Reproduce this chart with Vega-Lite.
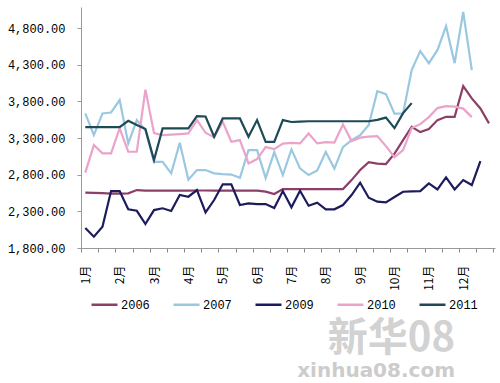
{
  "$schema": "https://vega.github.io/schema/vega-lite/v6.json",
  "width": 414,
  "height": 241,
  "autosize": {"type": "none"},
  "padding": {"left": 81, "top": 7, "right": 5, "bottom": 135},
  "background": "white",
  "config": {"view": {"stroke": null}},
  "title": {
    "text": "新华08",
    "subtitle": "xinhua08.com",
    "orient": "bottom",
    "anchor": "end",
    "frame": "group",
    "dx": -40,
    "offset": 8,
    "font": "Noto Sans CJK SC",
    "fontSize": 40,
    "fontWeight": "bold",
    "color": "#d2d2d2",
    "subtitleFont": "DejaVu Sans",
    "subtitleFontSize": 20,
    "subtitleFontWeight": "bold",
    "subtitleColor": "#cccccc",
    "subtitlePadding": 2
  },
  "data": {
    "values": [
      {"w":0,"s":"2006","v":2555},{"w":1,"s":"2006","v":2552},{"w":2,"s":"2006","v":2548},{"w":3,"s":"2006","v":2543},{"w":4,"s":"2006","v":2543},{"w":5,"s":"2006","v":2546},{"w":6,"s":"2006","v":2591},{"w":7,"s":"2006","v":2582},{"w":8,"s":"2006","v":2582},{"w":9,"s":"2006","v":2582},{"w":10,"s":"2006","v":2582},{"w":11,"s":"2006","v":2582},{"w":12,"s":"2006","v":2582},{"w":13,"s":"2006","v":2585},{"w":14,"s":"2006","v":2585},{"w":15,"s":"2006","v":2582},{"w":16,"s":"2006","v":2582},{"w":17,"s":"2006","v":2582},{"w":18,"s":"2006","v":2582},{"w":19,"s":"2006","v":2582},{"w":20,"s":"2006","v":2582},{"w":21,"s":"2006","v":2570},{"w":22,"s":"2006","v":2537},{"w":23,"s":"2006","v":2605},{"w":24,"s":"2006","v":2605},{"w":25,"s":"2006","v":2605},{"w":26,"s":"2006","v":2605},{"w":27,"s":"2006","v":2605},{"w":28,"s":"2006","v":2605},{"w":29,"s":"2006","v":2605},{"w":30,"s":"2006","v":2605},{"w":31,"s":"2006","v":2727},{"w":32,"s":"2006","v":2864},{"w":33,"s":"2006","v":2973},{"w":34,"s":"2006","v":2953},{"w":35,"s":"2006","v":2946},{"w":36,"s":"2006","v":3089},{"w":37,"s":"2006","v":3273},{"w":38,"s":"2006","v":3455},{"w":39,"s":"2006","v":3382},{"w":40,"s":"2006","v":3423},{"w":41,"s":"2006","v":3546},{"w":42,"s":"2006","v":3591},{"w":43,"s":"2006","v":3591},{"w":44,"s":"2006","v":4010},{"w":45,"s":"2006","v":3842},{"w":46,"s":"2006","v":3705},{"w":47,"s":"2006","v":3501},
      {"w":0,"s":"2007","v":3637},{"w":1,"s":"2007","v":3341},{"w":2,"s":"2007","v":3637},{"w":3,"s":"2007","v":3650},{"w":4,"s":"2007","v":3819},{"w":5,"s":"2007","v":3228},{"w":6,"s":"2007","v":3546},{"w":7,"s":"2007","v":3410},{"w":8,"s":"2007","v":2977},{"w":9,"s":"2007","v":2977},{"w":10,"s":"2007","v":2819},{"w":11,"s":"2007","v":3236},{"w":12,"s":"2007","v":2732},{"w":13,"s":"2007","v":2864},{"w":14,"s":"2007","v":2864},{"w":15,"s":"2007","v":2819},{"w":16,"s":"2007","v":2809},{"w":17,"s":"2007","v":2803},{"w":18,"s":"2007","v":2759},{"w":19,"s":"2007","v":3137},{"w":20,"s":"2007","v":3137},{"w":21,"s":"2007","v":2755},{"w":22,"s":"2007","v":3110},{"w":23,"s":"2007","v":2796},{"w":24,"s":"2007","v":3146},{"w":25,"s":"2007","v":2887},{"w":26,"s":"2007","v":2796},{"w":27,"s":"2007","v":2857},{"w":28,"s":"2007","v":3110},{"w":29,"s":"2007","v":2884},{"w":30,"s":"2007","v":3178},{"w":31,"s":"2007","v":3273},{"w":32,"s":"2007","v":3341},{"w":33,"s":"2007","v":3478},{"w":34,"s":"2007","v":3941},{"w":35,"s":"2007","v":3900},{"w":36,"s":"2007","v":3635},{"w":37,"s":"2007","v":3637},{"w":38,"s":"2007","v":4228},{"w":39,"s":"2007","v":4487},{"w":40,"s":"2007","v":4323},{"w":41,"s":"2007","v":4501},{"w":42,"s":"2007","v":4828},{"w":43,"s":"2007","v":4323},{"w":44,"s":"2007","v":5023},{"w":45,"s":"2007","v":4228},
      {"w":0,"s":"2009","v":2073},{"w":1,"s":"2009","v":1954},{"w":2,"s":"2009","v":2090},{"w":3,"s":"2009","v":2577},{"w":4,"s":"2009","v":2577},{"w":5,"s":"2009","v":2328},{"w":6,"s":"2009","v":2308},{"w":7,"s":"2009","v":2127},{"w":8,"s":"2009","v":2318},{"w":9,"s":"2009","v":2342},{"w":10,"s":"2009","v":2305},{"w":11,"s":"2009","v":2523},{"w":12,"s":"2009","v":2500},{"w":13,"s":"2009","v":2591},{"w":14,"s":"2009","v":2287},{"w":15,"s":"2009","v":2455},{"w":16,"s":"2009","v":2669},{"w":17,"s":"2009","v":2669},{"w":18,"s":"2009","v":2387},{"w":19,"s":"2009","v":2410},{"w":20,"s":"2009","v":2400},{"w":21,"s":"2009","v":2400},{"w":22,"s":"2009","v":2346},{"w":23,"s":"2009","v":2577},{"w":24,"s":"2009","v":2355},{"w":25,"s":"2009","v":2582},{"w":26,"s":"2009","v":2377},{"w":27,"s":"2009","v":2418},{"w":28,"s":"2009","v":2328},{"w":29,"s":"2009","v":2328},{"w":30,"s":"2009","v":2387},{"w":31,"s":"2009","v":2523},{"w":32,"s":"2009","v":2691},{"w":33,"s":"2009","v":2486},{"w":34,"s":"2009","v":2432},{"w":35,"s":"2009","v":2423},{"w":36,"s":"2009","v":2496},{"w":37,"s":"2009","v":2568},{"w":38,"s":"2009","v":2573},{"w":39,"s":"2009","v":2577},{"w":40,"s":"2009","v":2683},{"w":41,"s":"2009","v":2600},{"w":42,"s":"2009","v":2764},{"w":43,"s":"2009","v":2600},{"w":44,"s":"2009","v":2727},{"w":45,"s":"2009","v":2659},{"w":46,"s":"2009","v":2987},
      {"w":0,"s":"2010","v":2830},{"w":1,"s":"2010","v":3205},{"w":2,"s":"2010","v":3092},{"w":3,"s":"2010","v":3092},{"w":4,"s":"2010","v":3433},{"w":5,"s":"2010","v":3114},{"w":6,"s":"2010","v":3114},{"w":7,"s":"2010","v":3962},{"w":8,"s":"2010","v":3369},{"w":9,"s":"2010","v":3341},{"w":10,"s":"2010","v":3348},{"w":11,"s":"2010","v":3355},{"w":12,"s":"2010","v":3364},{"w":13,"s":"2010","v":3546},{"w":14,"s":"2010","v":3373},{"w":15,"s":"2010","v":3310},{"w":16,"s":"2010","v":3523},{"w":17,"s":"2010","v":3250},{"w":18,"s":"2010","v":3273},{"w":19,"s":"2010","v":2955},{"w":20,"s":"2010","v":3014},{"w":21,"s":"2010","v":3178},{"w":22,"s":"2010","v":3150},{"w":23,"s":"2010","v":3225},{"w":24,"s":"2010","v":3236},{"w":25,"s":"2010","v":3228},{"w":26,"s":"2010","v":3364},{"w":27,"s":"2010","v":3228},{"w":28,"s":"2010","v":3246},{"w":29,"s":"2010","v":3239},{"w":30,"s":"2010","v":3485},{"w":31,"s":"2010","v":3259},{"w":32,"s":"2010","v":3307},{"w":33,"s":"2010","v":3321},{"w":34,"s":"2010","v":3328},{"w":35,"s":"2010","v":3191},{"w":36,"s":"2010","v":3041},{"w":37,"s":"2010","v":3137},{"w":38,"s":"2010","v":3437},{"w":39,"s":"2010","v":3491},{"w":40,"s":"2010","v":3587},{"w":41,"s":"2010","v":3710},{"w":42,"s":"2010","v":3737},{"w":43,"s":"2010","v":3730},{"w":44,"s":"2010","v":3703},{"w":45,"s":"2010","v":3587},
      {"w":0,"s":"2011","v":3450},{"w":1,"s":"2011","v":3450},{"w":2,"s":"2011","v":3450},{"w":3,"s":"2011","v":3450},{"w":4,"s":"2011","v":3450},{"w":5,"s":"2011","v":3536},{"w":6,"s":"2011","v":3478},{"w":7,"s":"2011","v":3423},{"w":8,"s":"2011","v":3000},{"w":9,"s":"2011","v":3433},{"w":10,"s":"2011","v":3433},{"w":11,"s":"2011","v":3433},{"w":12,"s":"2011","v":3433},{"w":13,"s":"2011","v":3600},{"w":14,"s":"2011","v":3595},{"w":15,"s":"2011","v":3318},{"w":16,"s":"2011","v":3569},{"w":17,"s":"2011","v":3569},{"w":18,"s":"2011","v":3569},{"w":19,"s":"2011","v":3318},{"w":20,"s":"2011","v":3546},{"w":21,"s":"2011","v":3250},{"w":22,"s":"2011","v":3250},{"w":23,"s":"2011","v":3546},{"w":24,"s":"2011","v":3520},{"w":25,"s":"2011","v":3525},{"w":26,"s":"2011","v":3530},{"w":27,"s":"2011","v":3530},{"w":28,"s":"2011","v":3530},{"w":29,"s":"2011","v":3530},{"w":30,"s":"2011","v":3530},{"w":31,"s":"2011","v":3530},{"w":32,"s":"2011","v":3530},{"w":33,"s":"2011","v":3530},{"w":34,"s":"2011","v":3550},{"w":35,"s":"2011","v":3580},{"w":36,"s":"2011","v":3437},{"w":37,"s":"2011","v":3641},{"w":38,"s":"2011","v":3778}
    ]
  },
  "mark": {"type": "line", "strokeWidth": 2.2},
  "encoding": {
    "x": {
      "field": "w",
      "type": "quantitative",
      "scale": {"domain": [-0.5, 47.7], "nice": false, "zero": false},
      "axis": {
        "title": null,
        "grid": false,
        "values": [-0.5, 0, 1.5, 3.5, 4, 5.5, 7.5, 8, 9.5, 11.5, 12, 13.5, 15.5, 16, 17.5, 19.5, 20, 21.5, 23.5, 24, 25.5, 27.5, 28, 29.5, 31.5, 32, 33.5, 35.5, 36, 37.5, 39.5, 40, 41.5, 43.5, 44, 45.5, 47.5],
        "labelExpr": "datum.value % 1 == 0 ? (datum.value / 4 + 1) + '月' : ''",
        "tickOpacity": {"condition": {"test": "datum.value % 1 == 0", "value": 0}, "value": 1},
        "tickSize": 4,
        "tickColor": "#888888",
        "domainColor": "#999999",
        "labelAngle": -90,
        "labelFont": "Noto Sans CJK SC",
        "labelFontSize": 12,
        "labelColor": "#000000",
        "labelPadding": 13,
        "labelOverlap": false,
        "labelFlush": false,
        "labelBound": false
      }
    },
    "y": {
      "field": "v",
      "type": "quantitative",
      "scale": {"domain": [1800, 5090], "nice": false, "zero": false},
      "axis": {
        "title": null,
        "grid": false,
        "values": [1800, 2300, 2800, 3300, 3800, 4300, 4800],
        "format": ",.2f",
        "labelFont": "Liberation Mono",
        "labelFontSize": 12,
        "labelColor": "#000000",
        "tickSize": 4,
        "tickColor": "#999999",
        "domainColor": "#999999",
        "labelPadding": 12
      }
    },
    "color": {
      "field": "s",
      "type": "nominal",
      "scale": {
        "domain": ["2006", "2007", "2009", "2010", "2011"],
        "range": ["#8c3f68", "#99c8e0", "#1c1c5c", "#eba3c9", "#1e4a58"]
      },
      "legend": {
        "title": null,
        "orient": "none",
        "direction": "horizontal",
        "legendX": 9,
        "legendY": 283,
        "padding": 0,
        "symbolType": "stroke",
        "symbolSize": 676,
        "symbolStrokeWidth": 2.5,
        "labelFont": "Liberation Mono",
        "labelFontSize": 12,
        "labelColor": "#000000",
        "labelOffset": 2,
        "columnPadding": 18
      }
    }
  }
}
